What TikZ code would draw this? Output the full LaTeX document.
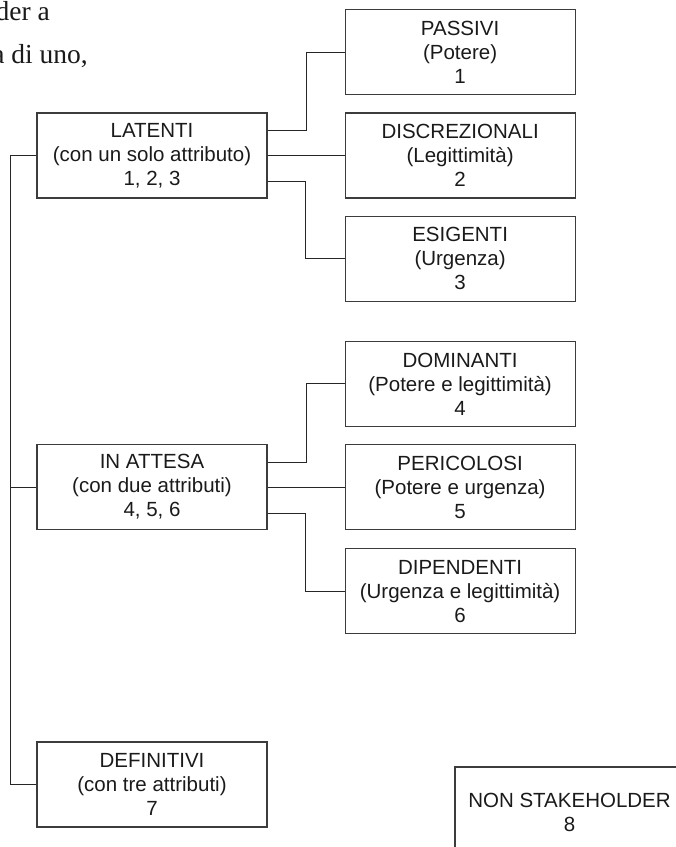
\documentclass[tikz,border=0pt]{standalone}
\usepackage{fontspec}
\setmainfont{Liberation Serif}
\newfontfamily\boxfont{Liberation Sans}
\usetikzlibrary{positioning, calc}
\definecolor{BoxLine}{HTML}{3C3C3C}
\definecolor{InkDark}{HTML}{1A1A1A}
\tikzset{
  catbox/.style={draw=BoxLine, line width=1.1pt, align=center,
    minimum width=230pt, minimum height=85pt, inner sep=0pt, text=InkDark,
    font=\boxfont\fontsize{20.5}{24}\selectfont},
  link/.style={draw=black!85, line width=1pt},
  prose/.style={anchor=base east, inner sep=0pt, text=InkDark,
    font=\fontsize{27.5}{32}\selectfont},
}

\begin{document}
\begin{tikzpicture}[x=1pt, y=-1pt]
    \useasboundingbox (0,0) rectangle (676,847);
    % text of the page above the figure
    \node[prose] (linea) at (50,20) {der a};
    \node[prose] (lineb) at (88,63) {a di uno,};
    % classes
    \node[catbox] (lat) at (152,155.5) {LATENTI\\(con un solo attributo)\\1, 2, 3};
    \node[catbox] (att) at (152,487) {IN ATTESA\\(con due attributi)\\4, 5, 6};
    \node[catbox] (defin) at (152,784.5) {DEFINITIVI\\(con tre attributi)\\7};
    \node[catbox, right=77pt of lat] (disc) {DISCREZIONALI\\(Legittimità)\\2};
    \node[catbox, above=17pt of disc] (pass) {PASSIVI\\(Potere)\\1};
    \node[catbox, below=17pt of disc] (esig) {ESIGENTI\\(Urgenza)\\3};
    \node[catbox, right=77pt of att] (peric) {PERICOLOSI\\(Potere e urgenza)\\5};
    \node[catbox, above=17pt of peric] (domin) {DOMINANTI\\(Potere e legittimità)\\4};
    \node[catbox, below=18pt of peric] (dipend) {DIPENDENTI\\(Urgenza e legittimità)\\6};
    \node[catbox, minimum width=229pt, minimum height=90pt] (nonst) at (569.5,812) {NON STAKEHOLDER\\8};
    % trunk on the left
    \draw[link] (lat.west) -- ++(-26pt,0) coordinate (trunk) |- (defin.west);
    \draw[link] (att.west) -- (att.west -| trunk);
    % branches
    \draw[link] ([yshift=25pt]lat.east) -- ++(39pt,0) |- (pass.west);
    \draw[link] (lat.east) -- (disc.west);
    \draw[link] ([yshift=-26pt]lat.east) -- ++(38pt,0) |- (esig.west);
    \draw[link] ([yshift=25pt]att.east) -- ++(39pt,0) |- (domin.west);
    \draw[link] (att.east) -- (peric.west);
    \draw[link] ([yshift=-26pt]att.east) -- ++(38pt,0) |- (dipend.west);
  \end{tikzpicture}
\end{document}
